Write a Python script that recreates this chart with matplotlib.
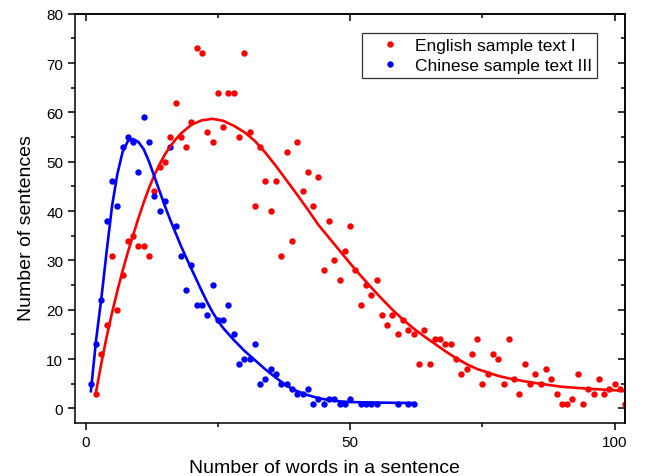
import matplotlib
matplotlib.use("Agg")
import matplotlib.pyplot as plt
from matplotlib.ticker import MultipleLocator

plt.rcParams['font.family'] = ['Liberation Sans', 'DejaVu Sans']

# English sample text I (scatter)
en_x = list(range(2, 103))
en_y = [3, 11, 17, 31, 20, 27, 34, 35, 33, 33, 31, 44, 49, 50, 55, 62, 55, 53, 58, 73,
        72, 56, 54, 64, 57, 64, 64, 55, 72, 56, 41, 53, 46, 40, 46, 31, 52, 34, 54, 44,
        48, 41, 47, 28, 38, 30, 26, 32, 37, 28, 21, 25, 23, 26, 19, 17, 19, 15, 18, 16,
        15, 9, 16, 9, 14, 14, 13, 13, 10, 7, 8, 11, 14, 5, 7, 11, 10, 5, 14, 6,
        3, 9, 5, 7, 5, 8, 6, 3, 1, 1, 2, 7, 1, 4, 3, 6, 3, 4, 5, 4, 1]

# Chinese sample text III (scatter)
zh_x = list(range(1, 51)) + [52, 53, 54, 55, 59, 61, 62]
zh_y = [5, 13, 22, 38, 46, 41, 53, 55, 54, 48, 59, 54, 43, 40, 42, 53, 37, 31, 24, 29,
        21, 21, 19, 25, 18, 18, 21, 15, 9, 10, 10, 13, 5, 6, 8, 7, 5, 5, 4, 3,
        3, 4, 1, 2, 1, 2, 2, 1, 1, 2, 1, 1, 1, 1, 1, 1, 1]

# fitted curves
en_fit_x = [2, 3, 4, 5, 6, 7, 8, 9, 10, 11, 12, 13, 14, 15, 16, 17, 18, 20, 22, 24,
            26, 28, 30, 32, 34, 36, 38, 40, 42, 44, 46, 48, 50, 52, 54, 56, 58, 60, 62, 64,
            66, 68, 70, 72, 74, 76, 78, 80, 83, 86, 90, 95, 100, 102]
en_fit_y = [3.5, 9.3, 14.6, 19.4, 23.8, 27.9, 31.7, 35.2, 38.6, 41.8, 44.7, 47.3, 49.5, 51.5, 53.1, 54.5, 55.7, 57.5, 58.4, 58.7,
            58.3, 57.3, 56.0, 54.2, 51.8, 49.1, 46.2, 43.3, 40.3, 37.2, 34.6, 32.0, 29.4, 26.9, 24.5, 22.2, 20.0, 18.0, 16.2, 14.6,
            13.1, 11.6, 10.2, 9.0, 8.0, 7.3, 6.6, 6.1, 5.5, 5.0, 4.4, 4.0, 3.7, 3.5]
zh_fit_x = [1, 2, 3, 4, 5, 6, 7, 8, 9, 10, 11, 12, 13, 14, 15, 16, 17, 18, 19, 20,
            21, 22, 23, 24, 25, 26, 28, 30, 32, 34, 36, 38, 40, 42, 44, 46, 48, 50, 55, 62]
zh_fit_y = [3.5, 14.0, 22.5, 32.0, 41.0, 47.5, 52.0, 54.2, 54.6, 54.0, 52.5, 50.0, 47.0, 44.0, 41.0, 38.2, 35.6, 33.0, 30.6, 28.3,
            26.0, 23.7, 21.5, 19.5, 17.8, 16.3, 13.9, 11.7, 9.8, 7.9, 6.2, 4.6, 3.5, 2.7, 2.1, 1.7, 1.45, 1.3, 1.2, 1.1]

x_ticks = [0, 50, 100]
y_ticks = [0, 10, 20, 30, 40, 50, 60, 70, 80]

fig = plt.figure(figsize=(6.55, 4.77), dpi=100)
ax = fig.add_axes([0.1145, 0.1105, 0.8402, 0.8587])

ax.plot(en_x, en_y, 'o', color='#ff0000', ms=4.6, mew=0, label='English sample text I', clip_on=True)
ax.plot(zh_x, zh_y, 'o', color='#0000ff', ms=4.6, mew=0, label='Chinese sample text III')
ax.plot(en_fit_x, en_fit_y, '-', color='#ff0000', lw=1.9, solid_joinstyle='round')
ax.plot(zh_fit_x, zh_fit_y, '-', color='#0000ff', lw=1.9, solid_joinstyle='round')

ax.set_xlim(-2, 102)
ax.set_ylim(-3, 80)
ax.set_xticks(x_ticks)
ax.set_yticks(y_ticks)
ax.xaxis.set_minor_locator(MultipleLocator(25))
ax.yaxis.set_minor_locator(MultipleLocator(5))

for s in ax.spines.values():
    s.set_linewidth(1.1)
ax.tick_params(which='both', direction='out', width=1.1, labelsize=11, top=False, right=False)
ax.tick_params(which='major', length=5)
ax.tick_params(which='minor', length=3)

# mirrored inward ticks on top and right
axr = ax.secondary_yaxis('right')
axr.set_yticks(y_ticks)
axr.yaxis.set_minor_locator(MultipleLocator(5))
axr.tick_params(which='both', direction='in', width=1.1, labelright=False)
axr.tick_params(which='major', length=5)
axr.tick_params(which='minor', length=3)
axr.spines['right'].set_linewidth(1.1)
axt = ax.secondary_xaxis('top')
axt.set_xticks(x_ticks)
axt.xaxis.set_minor_locator(MultipleLocator(25))
axt.tick_params(which='both', direction='in', width=1.1, labeltop=False)
axt.tick_params(which='major', length=5)
axt.tick_params(which='minor', length=3)
axt.spines['top'].set_linewidth(1.1)

ax.set_xlabel('Number of words in a sentence', fontsize=14, labelpad=7, x=0.4525)
ax.set_ylabel('Number of sentences', fontsize=14, labelpad=8, y=0.479)

leg = ax.legend(loc='upper right', bbox_to_anchor=(0.9486, 0.953), borderaxespad=0,
                fontsize=12.5, frameon=True, fancybox=False, numpoints=1,
                handlelength=2.6, handletextpad=0.15, borderpad=0.3, labelspacing=0.25,
                markerscale=1.0)
leg.get_frame().set_edgecolor('black')
leg.get_frame().set_linewidth(0.9)

fig.savefig('out.png', dpi=100)
